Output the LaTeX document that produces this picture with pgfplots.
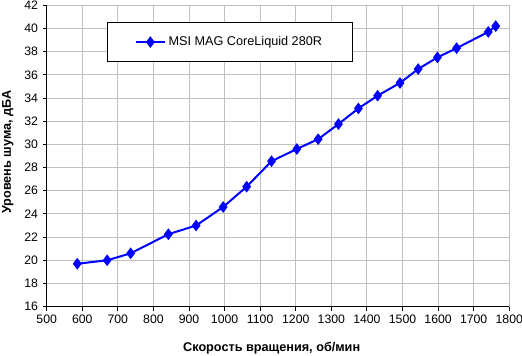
\documentclass[border=0pt]{standalone}
\usepackage{fontspec}
\setmainfont{Liberation Sans}
\usepackage{pgfplots}
\pgfplotsset{compat=1.18}
\definecolor{gridgray}{RGB}{192,192,192}
\definecolor{serblue}{RGB}{0,0,255}
\begin{document}
\begin{tikzpicture}
\useasboundingbox (-35.0pt,-37.0pt) rectangle (356.5pt,230.0pt);
\begin{axis}[
  at={(0,0)}, anchor=south west,
  scale only axis,
  width=346.95pt, height=226.05pt,
  xmin=500, xmax=1800, ymin=16, ymax=42,
  xtick={500,600,...,1800},
  ytick={16,18,...,42},
  /pgf/number format/assume math mode=true,
  /pgf/number format/1000 sep={},
  axis x line=bottom, axis y line=left,
  axis line style={-, black, line width=0.75pt},
  tick style={black, line width=0.75pt},
  tick align=outside,
  major tick length=3pt,
  grid=major,
  major grid style={gridgray, line width=0.75pt},
  tick label style={font=\fontsize{9.2}{11}\selectfont},
  xlabel={Скорость вращения, об/мин},
  ylabel={Уровень шума, дБА},
  label style={font=\fontsize{9.5}{11}\selectfont\bfseries},
  xlabel style={at={(axis description cs:0.4864,-0.137)}, anchor=center},
  ylabel style={at={(axis description cs:-0.0837,0.513)}, anchor=center},
  legend style={at={(axis description cs:0.1304,0.9446)}, anchor=north west,
    draw=black, line width=0.75pt, fill=white,
    font=\fontsize{9.5}{11}\selectfont,
    inner xsep=20.5pt, inner ysep=8.5pt},
  legend image code/.code={
    \draw[mark repeat=2,mark phase=2] plot coordinates {(0pt,0pt)(10.9pt,0pt)(21.8pt,0pt)};
  },
]
\addplot[serblue, line width=1.5pt, mark=diamond*, mark size=3.8pt,
  mark options={solid, fill=serblue, draw=serblue, line width=0.75pt}]
  coordinates {
  (586,19.7) (670,20.0) (736,20.6) (842,22.25) (920,23.0) (996,24.6)
  (1062,26.35) (1132,28.55) (1203,29.6) (1263,30.45) (1320,31.75)
  (1376,33.1) (1430,34.2) (1493,35.3) (1544,36.5) (1598,37.5)
  (1652,38.3) (1741,39.7) (1762,40.2)
  };
\addlegendentry{MSI MAG CoreLiquid 280R}
\end{axis}
\end{tikzpicture}
\end{document}
